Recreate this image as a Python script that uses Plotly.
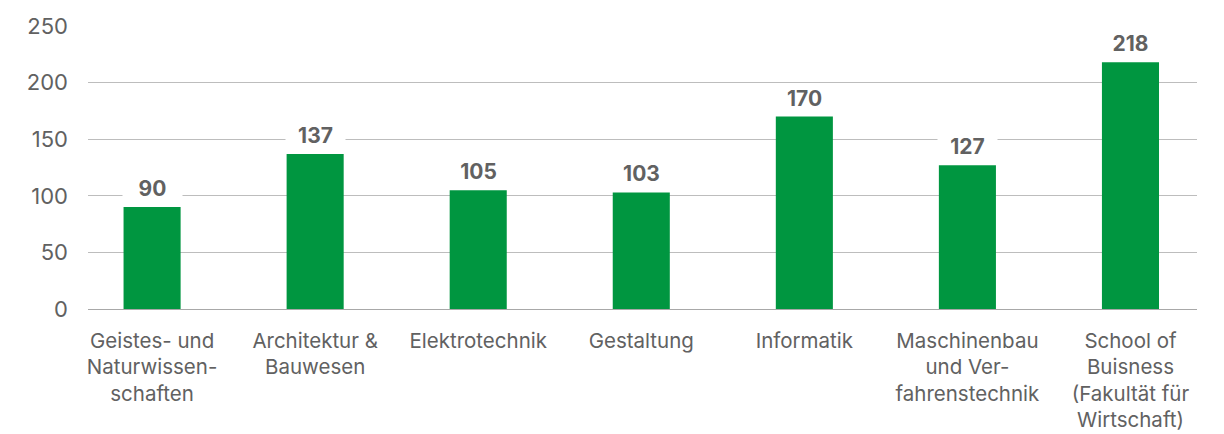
import plotly.graph_objects as go

categories = [
    "Geistes- und<br>Naturwissen-<br>schaften",
    "Architektur &<br>Bauwesen",
    "Elektrotechnik",
    "Gestaltung",
    "Informatik",
    "Maschinenbau<br>und Ver-<br>fahrenstechnik",
    "School of<br>Buisness<br>(Fakultät für<br>Wirtschaft)",
]
values = [90, 137, 105, 103, 170, 127, 218]
y_ticks = [0, 50, 100, 150, 200, 250]

GREEN = "#009640"
TEXT = "#616161"
FONT = "Inter, Liberation Sans, Arial, sans-serif"

fig = go.Figure(
    go.Bar(
        x=categories,
        y=values,
        marker=dict(color=GREEN, line=dict(width=0)),
        width=0.35,
        hoverinfo="skip",
    )
)

for c, v in zip(categories, values):
    fig.add_annotation(
        x=c, y=v, text=f"<b>{v}</b>", showarrow=False,
        yanchor="bottom", yshift=5,
        bgcolor="white", width=57, height=24,
        font=dict(family=FONT, size=21, color=TEXT),
    )

fig.update_layout(
    width=1216, height=426,
    margin=dict(l=80, r=27, t=18, b=125, autoexpand=False),
    paper_bgcolor="white", plot_bgcolor="white",
    showlegend=False,
    font=dict(family=FONT, size=21, color=TEXT),
)
fig.update_xaxes(
    range=[-0.393, 6.408], automargin=False,
    showgrid=False, showline=False, zeroline=False,
    ticks="", tickfont=dict(size=20.5, color=TEXT),
    ticklabelstandoff=17,
)
fig.update_yaxes(
    range=[0, 250], tickvals=y_ticks, automargin=False,
    showgrid=True, gridcolor="#bdbdbd", gridwidth=1,
    zeroline=True, zerolinecolor="#a8a8a8", zerolinewidth=1,
    showline=False, ticks="",
    tickfont=dict(size=22, color=TEXT),
    ticklabelstandoff=19,
)

fig.write_html("out.html")
